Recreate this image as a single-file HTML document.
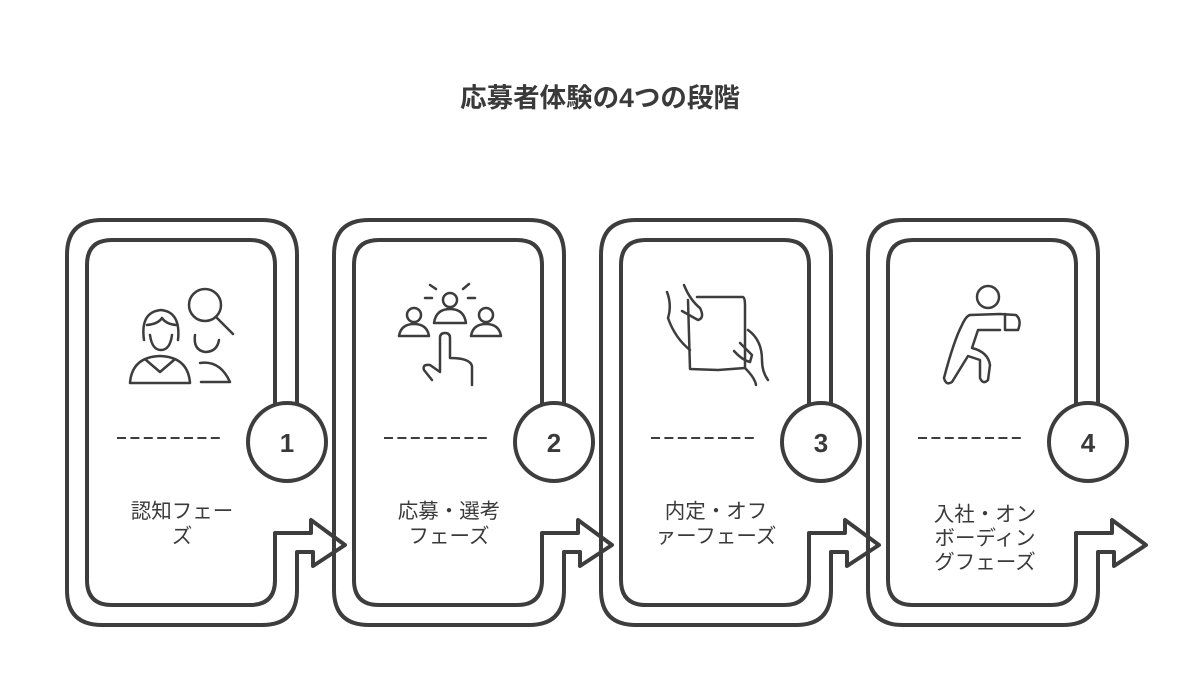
<!DOCTYPE html>
<html><head><meta charset="utf-8"><style>
body{margin:0;background:#fff;}
svg{display:block}
text{font-family:"Liberation Sans","Noto Sans CJK JP",sans-serif;fill:#3a3a3a}
</style></head><body>
<svg width="1200" height="683" viewBox="0 0 1200 683" xmlns="http://www.w3.org/2000/svg">
<defs>
<g id="card" fill="none" stroke="#3d3d3d" stroke-width="4" stroke-linejoin="round" stroke-linecap="round">
<path d="M297,405 L297,255 Q297,220 262,220 L102,220 Q67,220 67,255 L67,590 Q67,625 102,625 L262,625 Q297,625 297,590 L297,552 L313,552 L313,566 L345,545 L311,520 L311,533 L275,533 L275,580 Q275,605 250,605 L112,605 Q87,605 87,580 L87,265 Q87,240 112,240 L250,240 Q275,240 275,265 L275,405"/>
<circle cx="287" cy="442" r="39" fill="#fff"/>
<line x1="117" y1="438" x2="222" y2="438" stroke-width="2" stroke-linecap="butt" stroke-dasharray="9,4.4"/>
</g>
</defs>
<text x="600" y="107" text-anchor="middle" font-size="26.5" font-weight="bold">応募者体験の4つの段階</text>

<use href="#card"/>
<use href="#card" x="267"/>
<use href="#card" x="534"/>
<use href="#card" x="801"/>

<g font-size="26" font-weight="bold" text-anchor="middle">
<text x="287" y="452">1</text>
<text x="554" y="452">2</text>
<text x="821" y="452">3</text>
<text x="1088" y="452">4</text>
</g>

<g font-size="20.5" text-anchor="middle">
<text x="182" y="518">認知フェー</text>
<text x="182" y="543">ズ</text>
<text x="449" y="518">応募・選考</text>
<text x="449" y="543">フェーズ</text>
<text x="716" y="518">内定・オフ</text>
<text x="716" y="543">ァーフェーズ</text>
<text x="985" y="521">入社・オン</text>
<text x="985" y="545">ボーディン</text>
<text x="985" y="569">グフェーズ</text>
</g>

<g fill="none" stroke="#3d3d3d" stroke-width="2.5" stroke-linecap="round" stroke-linejoin="round">
<circle cx="205" cy="305" r="16"/>
<line x1="216" y1="317" x2="233" y2="334"/>
<path d="M195,335 Q193,350 205,352 Q217,352 219,340"/>
<path d="M200,363 Q220,360 230,382 L201,382"/>
<path d="M144,340 Q140,312 161,310 Q181,312 178,340"/>
<path d="M147,325 Q158,324 162,318 Q166,324 176,325"/>
<path d="M150,335 Q152,350 161,350 Q170,350 172,335"/>
<path d="M130,383 Q132,357 160,356 Q188,357 190,383 Z"/>
<path d="M146,360 L160,372 L174,360"/>
<circle cx="450" cy="300" r="7"/>
<path d="M434,323 Q436,309 450,309 Q464,309 466,323 Z"/>
<circle cx="414" cy="315" r="7"/>
<path d="M399,336 Q401,324 414,324 Q427,324 429,336 Z"/>
<circle cx="486" cy="315" r="7"/>
<path d="M471,336 Q473,324 486,324 Q499,324 501,336 Z"/>
<line x1="425" y1="298" x2="432" y2="298"/><line x1="468" y1="298" x2="475" y2="298"/>
<line x1="430" y1="285" x2="436" y2="289"/><line x1="469" y1="284" x2="463" y2="289"/>
<path d="M432,380 L424,370 Q422,364 430,365 L440,372 L440,338 Q440,333 445,333 Q450,333 450,338 L450,358 Q470,358 472,366 L472,385"/>
<path d="M697,297 L743,297 Q745,298 745,305 L745,368 L718,370 L690,369 L688,300"/>
<path d="M667,292 Q672,305 668,318 Q675,338 690,350"/>
<path d="M684,285 Q690,300 700,308 Q705,318 698,320 L682,311"/>
<path d="M748,330 Q762,340 762,360 Q762,372 768,380"/>
<path d="M734,351 Q742,360 750,362 L752,355 L740,343"/>
<path d="M745,368 Q755,378 756,385"/>
<circle cx="988" cy="297" r="11"/>
<path d="M970,315 L1000,314 L1016,315 Q1022,320 1018,330 L1005,330 L1005,314"/>
<path d="M1000,330 L978,330 L972,348 Q988,352 990,365 L988,380 Q983,385 980,378 L980,360 L968,356 L952,382 Q946,386 944,378 Q954,340 962,325 Q966,316 970,315"/>
</g>
</svg>
</body></html>
